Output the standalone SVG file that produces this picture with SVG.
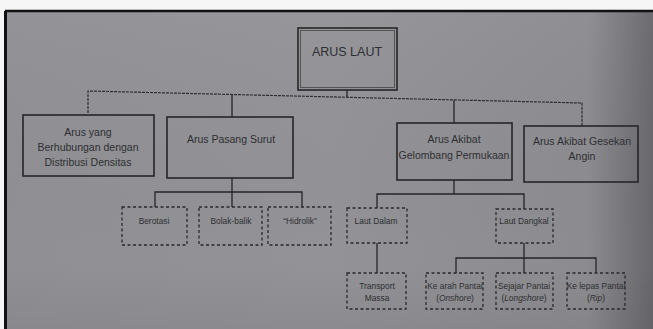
<svg xmlns="http://www.w3.org/2000/svg" width="653" height="329" viewBox="0 0 653 329">
<defs>
<linearGradient id="bg" x1="0" y1="0" x2="1" y2="0">
<stop offset="0" stop-color="#909094"/>
<stop offset="0.5" stop-color="#939397"/>
<stop offset="0.9" stop-color="#8c8c90"/>
<stop offset="1" stop-color="#68686c"/>
</linearGradient>
<linearGradient id="bgv" x1="0" y1="0" x2="0" y2="1">
<stop offset="0" stop-color="#fff" stop-opacity="0.03"/>
<stop offset="0.8" stop-color="#000" stop-opacity="0"/>
<stop offset="1" stop-color="#000" stop-opacity="0.05"/>
</linearGradient>
</defs>
<style>
.box{fill:none;stroke:#262628;stroke-width:1.6}
.dbox{fill:none;stroke:#2a2a2c;stroke-width:1.3;stroke-dasharray:3 2.5}
.ln{fill:none;stroke:#262628;stroke-width:1.3}
.bus{fill:none;stroke:#2e2e30;stroke-width:1.2;stroke-dasharray:3 1}
text{font-family:"Liberation Sans",Arial,sans-serif;fill:#2e2e32;text-anchor:middle}
.t1{font-size:12.5px}
.t2{font-size:10.5px}
.t3{font-size:8.4px}
</style>
<rect x="0" y="0" width="653" height="329" fill="#f6f6f6"/>
<rect x="5" y="11" width="648" height="318" fill="url(#bg)"/>
<rect x="5" y="11" width="648" height="318" fill="url(#bgv)"/>
<line x1="5" y1="11" x2="653" y2="11" stroke="#111" stroke-width="2.5"/>
<line x1="5.5" y1="11" x2="5.5" y2="329" stroke="#111" stroke-width="3"/>

<g id="connectors">
<polyline class="bus" points="88,113 88,91 582,103 582,126"/>
<line class="ln" x1="347" y1="90" x2="347" y2="97.5"/>
<line class="ln" x1="232" y1="94.5" x2="232" y2="117"/>
<line class="ln" x1="454" y1="100" x2="454" y2="123"/>
<line class="ln" x1="232" y1="178" x2="232" y2="192"/>
<polyline class="ln" points="155,207 155,192 302,192 302,207"/>
<line class="ln" x1="232" y1="192" x2="232" y2="207"/>
<line class="ln" x1="454" y1="180" x2="454" y2="194"/>
<polyline class="ln" points="377,208 377,194 524,194 524,209"/>
<line class="ln" x1="377" y1="243" x2="377" y2="273"/>
<line class="ln" x1="524" y1="243" x2="524" y2="273"/>
<polyline class="ln" points="456,273 456,258 596,258 596,273"/>
</g>

<g id="arus-laut">
<rect class="box" x="298" y="28" width="99" height="62" stroke-width="2.6"/>
<rect x="300.5" y="30.5" width="94" height="57" fill="none" stroke="#444" stroke-width="0.8"/>
<text class="t1" x="347" y="56">ARUS LAUT</text>
</g>

<g id="densitas">
<rect class="box" x="23" y="115" width="131" height="61"/>
<text class="t2" x="88" y="136">Arus yang</text>
<text class="t2" x="88" y="151">Berhubungan dengan</text>
<text class="t2" x="88" y="166">Distribusi Densitas</text>
</g>

<g id="pasang-surut">
<rect class="box" x="167" y="117" width="126" height="61"/>
<text class="t2" x="231" y="143">Arus Pasang Surut</text>
</g>

<g id="gelombang">
<rect class="box" x="397" y="123" width="115" height="57"/>
<text class="t2" x="454" y="143">Arus Akibat</text>
<text class="t2" x="454" y="159">Gelombang Permukaan</text>
</g>

<g id="gesekan">
<rect class="box" x="524" y="126" width="114" height="56"/>
<text class="t2" x="582" y="145">Arus Akibat Gesekan</text>
<text class="t2" x="582" y="160">Angin</text>
</g>

<g id="berotasi">
<rect class="dbox" x="122" y="207" width="65" height="38"/>
<text class="t3" x="154" y="224">Berotasi</text>
</g>

<g id="bolak-balik">
<rect class="dbox" x="199" y="207" width="63" height="38"/>
<text class="t3" x="231" y="224">Bolak-balik</text>
</g>

<g id="hidrolik">
<rect class="dbox" x="268" y="207" width="63" height="38"/>
<text class="t3" x="300" y="224">“Hidrolik”</text>
</g>

<g id="laut-dalam">
<rect class="dbox" x="347" y="208" width="60" height="35"/>
<text class="t3" x="376" y="224">Laut Dalam</text>
</g>

<g id="laut-dangkal">
<rect class="dbox" x="496" y="209" width="57" height="34"/>
<text class="t3" x="524" y="224">Laut Dangkal</text>
</g>

<g id="transport-massa">
<rect class="dbox" x="347" y="273" width="59" height="36"/>
<text class="t3" x="377" y="289">Transport</text>
<text class="t3" x="377" y="301">Massa</text>
</g>

<g id="onshore">
<rect class="dbox" x="426" y="273" width="57" height="36"/>
<text class="t3" x="455" y="289">Ke arah Pantai</text>
<text class="t3" x="455" y="301">(<tspan font-style="italic">Onshore</tspan>)</text>
</g>

<g id="longshore">
<rect class="dbox" x="496" y="273" width="57" height="36"/>
<text class="t3" x="524" y="289">Sejajar Pantai</text>
<text class="t3" x="524" y="301">(<tspan font-style="italic">Longshore</tspan>)</text>
</g>

<g id="rip">
<rect class="dbox" x="567" y="273" width="58" height="36"/>
<text class="t3" x="596" y="289">Ke lepas Pantai</text>
<text class="t3" x="596" y="301">(<tspan font-style="italic">Rip</tspan>)</text>
</g>
</svg>
